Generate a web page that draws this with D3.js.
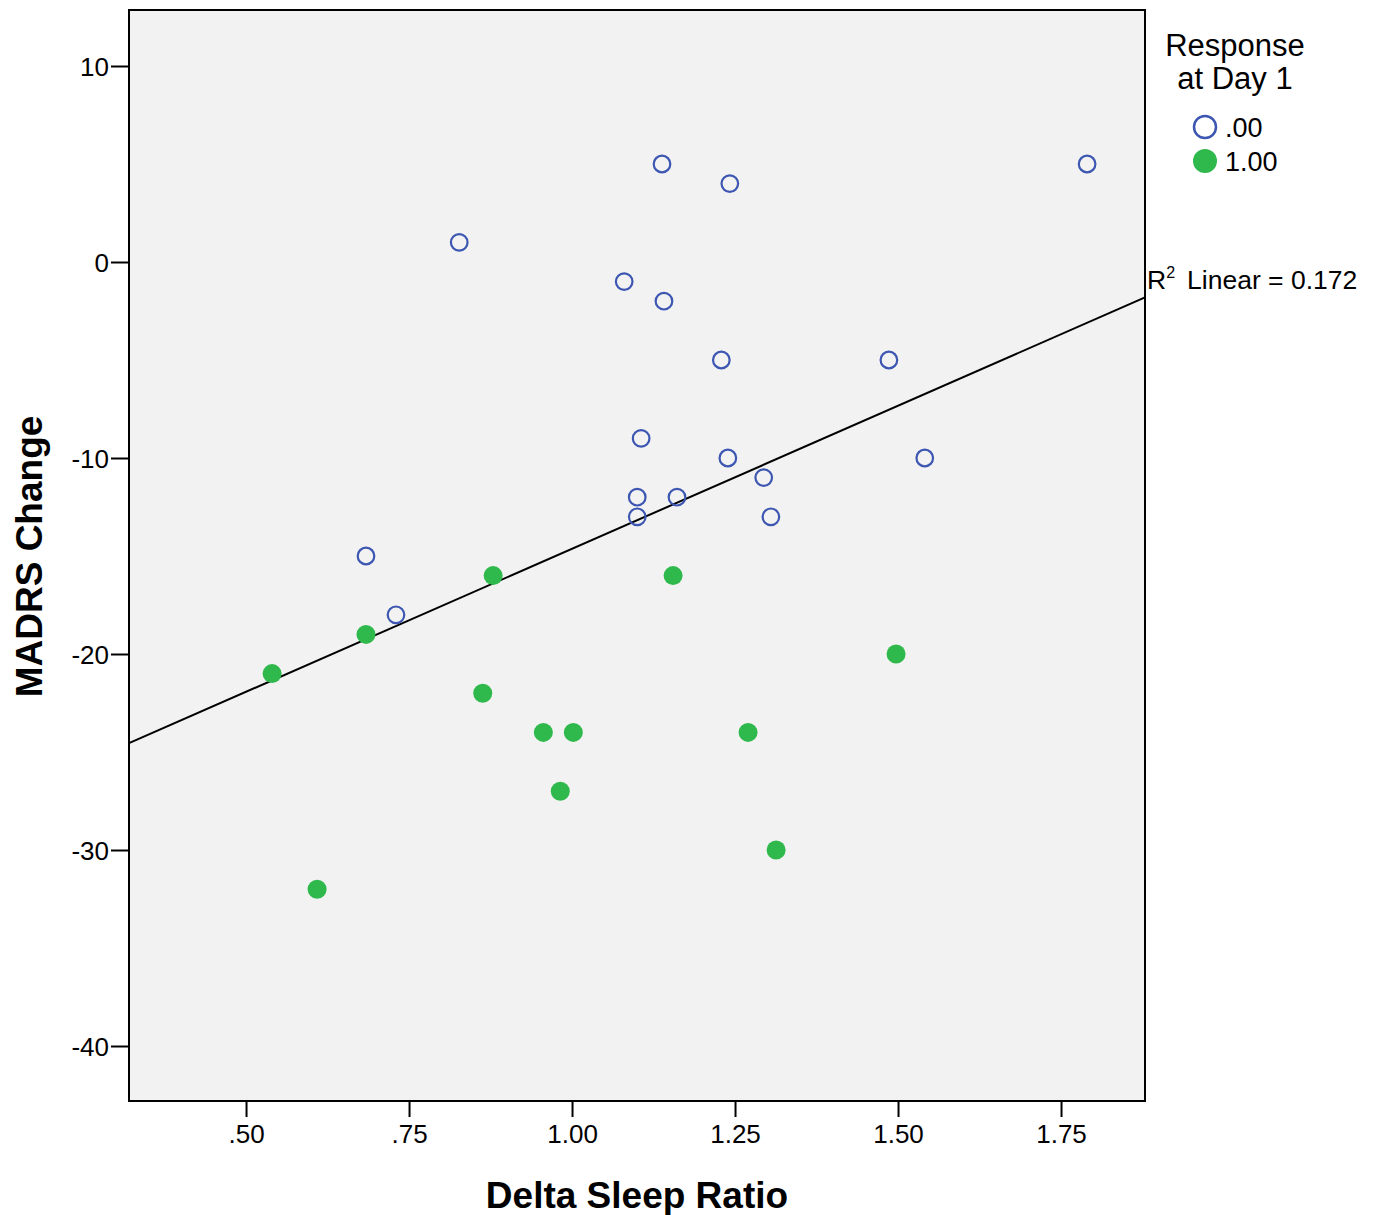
<!DOCTYPE html>
<html>
<head>
<meta charset="utf-8">
<script src="https://cdn.jsdelivr.net/npm/d3@7"></script>
<style>
  body { margin: 0; background: #fff; }
  text { font-family: "Liberation Sans", Arial, sans-serif; fill: #000; }
</style>
</head>
<body>
<svg id="chart" width="1376" height="1215"></svg>
<script>
// response at day 1 = .00 (open circles)
const ratio0 = [0.827, 1.138, 1.242, 1.790, 1.080, 1.141, 1.229, 1.486, 1.106, 1.239, 1.541, 1.294, 1.100, 1.161, 1.100, 1.305, 0.684, 0.730];
const madrs0 = [1, 5, 4, 5, -1, -2, -5, -5, -9, -10, -10, -11, -12, -12, -13, -13, -15, -18];
// response at day 1 = 1.00 (filled)
const ratio1 = [0.879, 1.155, 0.684, 0.540, 1.497, 0.863, 0.956, 1.002, 1.270, 0.982, 1.313, 0.609];
const madrs1 = [-16, -16, -19, -21, -20, -22, -24, -24, -24, -27, -30, -32];

const xTicks = [0.5, 0.75, 1.0, 1.25, 1.5, 1.75];
const yTicks = [10, 0, -10, -20, -30, -40];
const legendLabels = [".00", "1.00"];
const r2Label = "0.172";

const blue = "#3c56b1", green = "#2fb84c";

const svg = d3.select("#chart");
const pL = 129, pR = 1145, pT = 10, pB = 1101;

const x = d3.scaleLinear().domain([0.3205, 1.8788]).range([pL, pR]);
const y = d3.scaleLinear().domain([-42.806, 12.857]).range([pB, pT]);

svg.append("rect")
  .attr("x", pL).attr("y", pT)
  .attr("width", pR - pL).attr("height", pB - pT)
  .attr("fill", "#f2f2f2");

// axes
const fmt = d => d < 1 ? d3.format(".2f")(d).replace(/^0/, "") : d3.format(".2f")(d);
const xAxis = svg.append("g")
  .attr("transform", `translate(0,${pB})`)
  .call(d3.axisBottom(x).tickValues(xTicks).tickFormat(fmt).tickSize(16).tickSizeOuter(0).tickPadding(8));
const yAxis = svg.append("g")
  .attr("transform", `translate(${pL},0)`)
  .call(d3.axisLeft(y).tickValues(yTicks).tickFormat(d => String(d)).tickSize(18).tickSizeOuter(0).tickPadding(2));
[xAxis, yAxis].forEach(g => {
  g.select(".domain").remove();
  g.selectAll(".tick line").attr("stroke", "#000").attr("stroke-width", 2);
  g.selectAll(".tick text").attr("font-size", 26).attr("fill", "#000")
    .style("font-family", "'Liberation Sans', Arial, sans-serif");
});
yAxis.selectAll(".tick text").attr("dy", "0.36em");

// regression line (least squares on all points)
const allX = ratio0.concat(ratio1), allY = madrs0.concat(madrs1);
const mx = d3.mean(allX), my = d3.mean(allY);
const sxy = d3.sum(allX, (v, i) => (v - mx) * (allY[i] - my));
const sxx = d3.sum(allX, v => (v - mx) ** 2);
const slope = sxy / sxx, icpt = my - slope * mx;
const dom = x.domain();
svg.append("line")
  .attr("x1", x(dom[0])).attr("y1", y(icpt + slope * dom[0]))
  .attr("x2", x(dom[1])).attr("y2", y(icpt + slope * dom[1]))
  .attr("stroke", "#000").attr("stroke-width", 2);

// points
svg.append("g").selectAll("circle")
  .data(ratio0.map((v, i) => [v, madrs0[i]]))
  .join("circle")
  .attr("cx", d => x(d[0])).attr("cy", d => y(d[1])).attr("r", 8.3)
  .attr("fill", "none").attr("stroke", blue).attr("stroke-width", 2.2);
svg.append("g").selectAll("circle")
  .data(ratio1.map((v, i) => [v, madrs1[i]]))
  .join("circle")
  .attr("cx", d => x(d[0])).attr("cy", d => y(d[1])).attr("r", 9.5)
  .attr("fill", green);

// frame
svg.append("rect")
  .attr("x", pL).attr("y", pT)
  .attr("width", pR - pL).attr("height", pB - pT)
  .attr("fill", "none").attr("stroke", "#000").attr("stroke-width", 2);

// R2 label
const r2 = svg.append("text").attr("x", pR + 2).attr("y", 289).attr("font-size", 26.5);
r2.append("tspan").text("R");
r2.append("tspan").attr("font-size", 16).attr("dy", -11).text("2");
r2.append("tspan").attr("dy", 11).attr("dx", 12).text("Linear = " + r2Label);

// legend
svg.append("text").attr("x", 1235).attr("y", 56).attr("text-anchor", "middle")
  .attr("font-size", 31).text("Response");
svg.append("text").attr("x", 1235).attr("y", 89).attr("text-anchor", "middle")
  .attr("font-size", 31).text("at Day 1");
const leg = svg.append("g").selectAll("g").data(legendLabels).join("g")
  .attr("transform", (d, i) => `translate(1205,${127 + i * 34})`);
leg.append("circle").attr("r", (d, i) => i ? 12 : 11)
  .attr("fill", (d, i) => i ? green : "none")
  .attr("stroke", (d, i) => i ? "none" : blue).attr("stroke-width", 2.5);
leg.append("text").attr("x", 20).attr("dy", "0.38em").attr("font-size", 27).text(d => d);

// axis titles
svg.append("text").attr("x", (pL + pR) / 2).attr("y", 1208).attr("text-anchor", "middle")
  .attr("font-size", 37).attr("font-weight", "bold").text("Delta Sleep Ratio");
svg.append("text").attr("transform", `translate(42,${(pT + pB) / 2 + 1}) rotate(-90)`)
  .attr("text-anchor", "middle").attr("font-size", 37).attr("font-weight", "bold").text("MADRS Change");
</script>
</body>
</html>
